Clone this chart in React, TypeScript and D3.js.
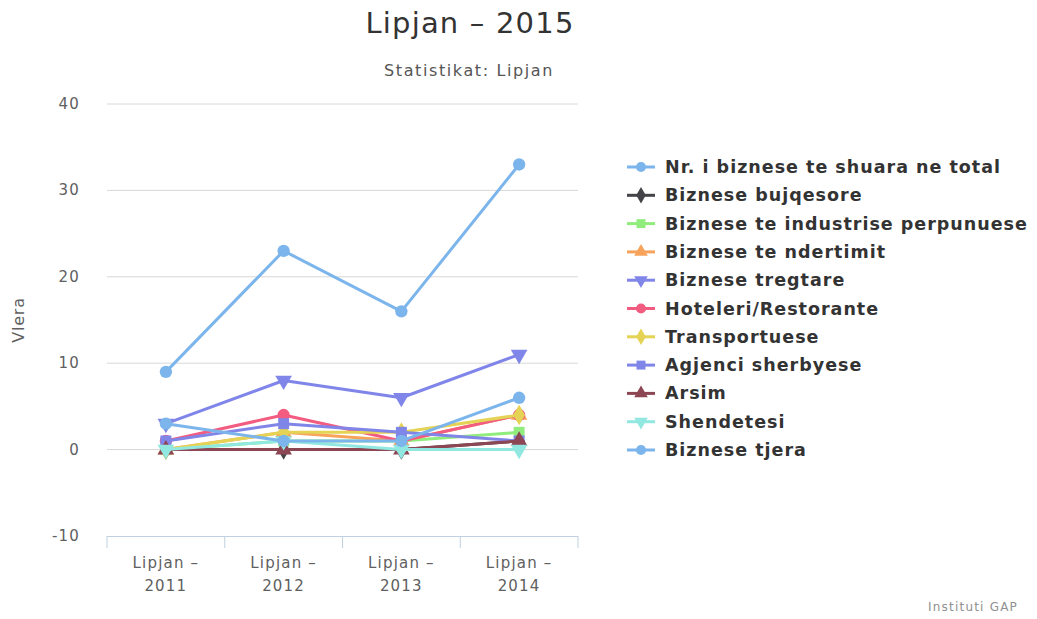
import React from "react";
import * as d3 from "d3";

const categories = ["Lipjan – 2011", "Lipjan – 2012", "Lipjan – 2013", "Lipjan – 2014"];
const seriesNames = [
  "Nr. i biznese te shuara ne total",
  "Biznese bujqesore",
  "Biznese te industrise perpunuese",
  "Biznese te ndertimit",
  "Biznese tregtare",
  "Hoteleri/Restorante",
  "Transportuese",
  "Agjenci sherbyese",
  "Arsim",
  "Shendetesi",
  "Biznese tjera",
];
const totalValues = [9, 23, 16, 33];
const bujqesoreValues = [0, 0, 0, 1];
const industriseValues = [0, 1, 1, 2];
const ndertimitValues = [0, 2, 1, 4];
const tregtareValues = [3, 8, 6, 11];
const hoteleriValues = [1, 4, 1, 4];
const transportueseValues = [0, 2, 2, 4];
const agjenciValues = [1, 3, 2, 1];
const arsimValues = [0, 0, 0, 1];
const shendetesiValues = [0, 1, 0, 0];
const tjeraValues = [3, 1, 1, 6];
const yTicks = [-10, 0, 10, 20, 30, 40];

const allValues = [
  totalValues, bujqesoreValues, industriseValues, ndertimitValues, tregtareValues,
  hoteleriValues, transportueseValues, agjenciValues, arsimValues, shendetesiValues, tjeraValues,
];
const colors = ["#7cb5ec", "#434348", "#90ed7d", "#f7a35c", "#8085e9", "#f15c80", "#e4d354", "#8085e8", "#8d4653", "#91e8e1", "#7cb5ec"];
const symbolTypes = [d3.symbolCircle, d3.symbolDiamond, d3.symbolSquare, d3.symbolTriangle, "tdown", d3.symbolCircle, d3.symbolDiamond, d3.symbolSquare, d3.symbolTriangle, "tdown", d3.symbolCircle];

const left = 107, right = 578, top = 104, bottom = 536;

function markerPath(t: any, size: number) {
  if (t === "tdown") {
    const p = d3.symbol().type(d3.symbolTriangle).size(size)();
    return { d: p as string, rot: 180 };
  }
  return { d: d3.symbol().type(t).size(size)() as string, rot: 0 };
}

export default function App() {
  const x = d3.scaleBand().domain(categories).range([left, right]);
  const y = d3.scaleLinear().domain([-10, 40]).range([bottom, top]);
  const cx = (c: string) => (x(c) as number) + x.bandwidth() / 2;
  const line = d3.line<number>().x((_, i) => cx(categories[i])).y((v) => y(v));
  const font = "'DejaVu Sans', 'Lucida Grande', sans-serif";
  const legendY = d3.scaleLinear().domain([0, 10]).range([167, 450]);
  return (
    <svg width={1037} height={619} style={{ position: "absolute", left: 0, top: 0, background: "#fff" }} fontFamily={font}>
      <text x={470} y={33} textAnchor="middle" fontSize={29} letterSpacing={1.2} fill="#333">Lipjan – 2015</text>
      <text x={469} y={76} textAnchor="middle" fontSize={16} letterSpacing={1.6} fill="#555">Statistikat: Lipjan</text>
      {yTicks.filter((t) => t > -10).map((t) => (
        <line key={t} x1={left} x2={right} y1={y(t)} y2={y(t)} stroke="#d8d8d8" strokeWidth={1} />
      ))}
      <line x1={left} x2={right} y1={bottom + 0.5} y2={bottom + 0.5} stroke="#c0d0e0" strokeWidth={1} />
      {d3.range(categories.length + 1).map((i) => {
        const xx = i < categories.length ? (x(categories[i]) as number) : right;
        return <line key={i} x1={xx} x2={xx} y1={bottom} y2={bottom + 12} stroke="#c0d0e0" strokeWidth={1} />;
      })}
      {yTicks.map((t) => (
        <text key={t} x={80} y={y(t) + 5} textAnchor="end" fontSize={15} letterSpacing={1.2} fill="#606060">{t}</text>
      ))}
      <text transform={`translate(24,${(top + bottom) / 2 + 0}) rotate(-90)`} textAnchor="middle" fontSize={16} letterSpacing={0.8} fill="#606060">Vlera</text>
      {categories.map((c) => {
        const parts = c.split(" – ");
        return (
          <text key={c} x={cx(c)} textAnchor="middle" fontSize={15} letterSpacing={1.2} fill="#606060">
            <tspan x={cx(c)} y={568}>{parts[0] + " –"}</tspan>
            <tspan x={cx(c)} y={591}>{parts[1]}</tspan>
          </text>
        );
      })}
      {allValues.map((vals, s) => (
        <g key={s}>
          <path d={line(vals) as string} fill="none" stroke={colors[s]} strokeWidth={3} strokeLinejoin="round" strokeLinecap="round" />
          {vals.map((v, i) => {
            const m = markerPath(symbolTypes[s], 120);
            return <path key={i} d={m.d} fill={colors[s]} transform={`translate(${cx(categories[i])},${y(v)}) rotate(${m.rot})`} />;
          })}
        </g>
      ))}
      {seriesNames.map((n, s) => {
        const ly = legendY(s);
        const m = markerPath(symbolTypes[s], 80);
        return (
          <g key={n}>
            <line x1={627} x2={655} y1={ly} y2={ly} stroke={colors[s]} strokeWidth={3} />
            <path d={m.d} fill={colors[s]} transform={`translate(641,${ly}) rotate(${m.rot})`} />
            <text x={665} y={ly + 6} fontSize={17.5} letterSpacing={1} fontWeight="bold" fill="#333">{n}</text>
          </g>
        );
      })}
      <text x={1018} y={611} textAnchor="end" fontSize={12} letterSpacing={1.2} fill="#909090">Instituti GAP</text>
    </svg>
  );
}
